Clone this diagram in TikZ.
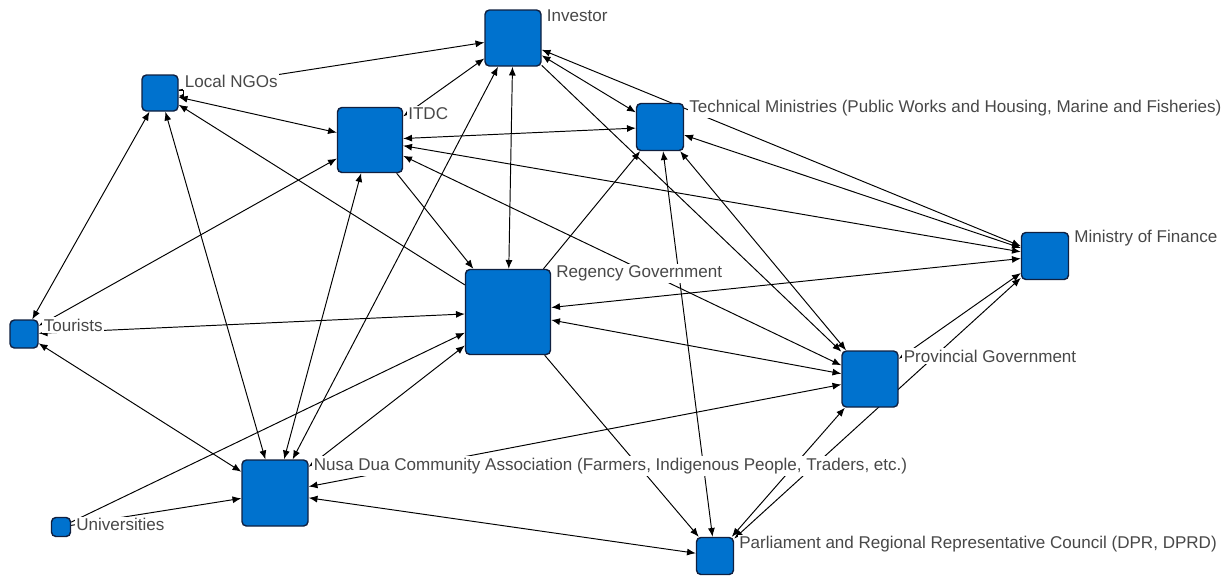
\documentclass[tikz,border=0pt]{standalone}
\usepackage{fontspec}
\setmainfont{Liberation Sans}
\usetikzlibrary{arrows.meta, backgrounds}

\definecolor{actorblue}{RGB}{0,114,206}
\definecolor{actorrim}{RGB}{16,32,64}
\definecolor{tagtext}{RGB}{72,72,72}

\tikzset{
  actor/.style={draw=actorrim, fill=actorblue, line width=0.8pt, rounded corners=2.5pt, inner sep=0pt, minimum size=#1*0.2mm},
  tag/.style={anchor=west, fill=white, inner sep=1pt, text=tagtext, font=\fontsize{9.7}{11}\selectfont},
  tie/.style={draw=black, line width=0.55pt, -{Latex[length=5pt,width=4pt]}},
  twoway/.style={tie, {Latex[length=5pt,width=4pt]}-{Latex[length=5pt,width=4pt]}},
}

\begin{document}
\begin{tikzpicture}[x=0.2mm, y=-0.2mm]
  \useasboundingbox (0,0) rectangle (1228,576);
  % actors, sized by degree
  \node[actor=56] (inv)  at (513,38)  {};
  \node[actor=36] (ngo)  at (160,93)  {};
  \node[actor=65] (itdc) at (370,140) {};
  \node[actor=47] (tm)   at (660,127) {};
  \node[actor=47] (mof)  at (1045,256) {};
  \node[actor=85] (reg)  at (508,312) {};
  \node[actor=28] (tour) at (24,334)  {};
  \node[actor=56] (prov) at (870,379) {};
  \node[actor=66] (ndca) at (275,493) {};
  \node[actor=19] (univ) at (61,527)  {};
  \node[actor=37] (parl) at (715,556) {};

  % names
  \node[tag] (invT)  at ([xshift=0.6mm, yshift=-1.3mm]inv.north east)  {Investor};
  \node[tag] (ngoT)  at ([xshift=0.8mm, yshift=-1.5mm]ngo.north east)  {Local NGOs};
  \node[tag] (itdcT) at ([xshift=0.6mm, yshift=-1.3mm]itdc.north east) {ITDC};
  \node[tag] (tmT)   at ([xshift=0.6mm, yshift=-1.0mm]tm.north east)   {Technical Ministries (Public Works and Housing, Marine and Fisheries)};
  \node[tag] (mofT)  at ([xshift=0.6mm, yshift=-1.2mm]mof.north east)  {Ministry of Finance};
  \node[tag] (regT)  at ([xshift=0.6mm, yshift=-1.0mm]reg.north east)  {Regency Government};
  \node[tag] (tourT) at ([xshift=0.6mm, yshift=-1.2mm]tour.north east) {Tourists};
  \node[tag] (provT) at ([xshift=0.6mm, yshift=-1.2mm]prov.north east) {Provincial Government};
  \node[tag] (ndcaT) at ([xshift=0.6mm, yshift=-1.3mm]ndca.north east) {Nusa Dua Community Association (Farmers, Indigenous People, Traders, etc.)};
  \node[tag] (univT) at ([xshift=0.6mm, yshift=-1.6mm]univ.north east) {Universities};
  \node[tag] (parlT) at ([xshift=0.6mm, yshift=-1.5mm]parl.north east) {Parliament and Regional Representative Council (DPR, DPRD)};

  \begin{scope}[on background layer]
    % reciprocal ties
    \foreach \a/\b in {ngo/itdc, ngo/tour, ngo/ndca, tour/ndca, tour/itdc, tour/reg,
                       itdc/ndca, inv/ndca, prov/ndca, ndca/parl, reg/ndca,
                       reg/inv, mof/reg, reg/prov, itdc/tm, itdc/inv, mof/itdc,
                       prov/itdc, inv/tm, mof/inv, tm/parl, tm/mof, tm/prov,
                       prov/mof, prov/parl, parl/mof}
      \draw[twoway] (\a) -- (\b);
    % one-way ties
    \foreach \a/\b in {ngo/inv, reg/ngo, univ/ndca, univ/reg, reg/parl,
                       reg/tm, inv/prov, itdc/reg}
      \draw[tie] (\a) -- (\b);
  \end{scope}
  % reflexive tie
  \draw[tie, -{Latex[length=2.5pt,width=2.5pt]}] ([yshift=0.6mm]ngo.east) -- ++(0.9mm,0) -- ++(0,-1.2mm) -- ++(-0.9mm,0);
\end{tikzpicture}
\end{document}
